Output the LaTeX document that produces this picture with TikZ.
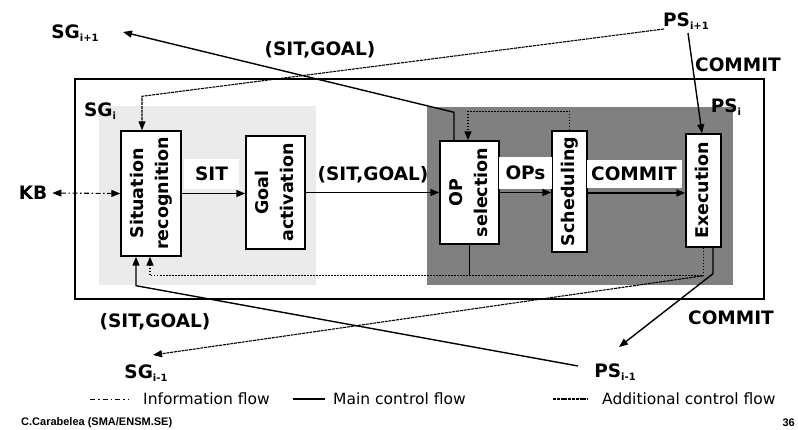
\documentclass[tikz,border=0pt]{standalone}
\usepackage{fontspec}
\setmainfont{DejaVu Sans}
\newfontfamily\creditfont{Liberation Sans}
\usetikzlibrary{arrows.meta,calc}

% vertical (rotated) text inside a block
\newcommand\vtext[1]{\rotatebox{90}{\begin{tabular}{@{}c@{}}#1\end{tabular}}}
% layer name with a small index
\newcommand\lay[2]{#1\raisebox{-3pt}{\fontsize{10}{10}\selectfont #2}}

\begin{document}
\begin{tikzpicture}[x=1pt,y=-1pt,
  >={Triangle[length=9pt,width=7pt]},
  main/.style={line width=1.4pt},
  infoflow/.style={line width=1.1pt, dash pattern=on 5pt off 2.5pt on 1.5pt off 2.5pt},
  extra/.style={line width=1.5pt, dash pattern=on 1.5pt off 1.5pt},
  fine/.style={line width=1.1pt, dash pattern=on 3pt off 0.8pt},
  block/.style={draw, fill=white, line width=1.4pt, inner sep=0pt,
    font=\fontsize{17.5}{25}\selectfont\bfseries},
  lbl/.style={font=\fontsize{18.5}{20}\selectfont\bfseries, inner sep=1pt},
  legend/.style={font=\fontsize{15.5}{17}\selectfont, anchor=west, inner sep=0pt}
]
\useasboundingbox (0,0) rectangle (798,430);

% agent frame and the two layers
\draw[line width=1.4pt] (75,79) rectangle (764,299);
\fill[gray!16] (99,106) rectangle (316,285);
\fill[black!50] (427,107) rectangle (733,285);

% processing blocks
\node[block, minimum width=60pt, minimum height=125pt] (SR) at (151,193.5) {\vtext{Situation\\recognition}};
\node[block, minimum width=59pt, minimum height=113pt] (GA) at (275.5,192.5) {\vtext{Goal\\activation}};
\node[block, minimum width=59pt, minimum height=103pt] (OP) at (469.5,192.5) {\vtext{OP\\selection}};
\node[block, minimum width=35pt, minimum height=121pt] (SC) at (569.5,191.5) {\vtext{Scheduling}};
\node[block, minimum width=35pt, minimum height=113pt] (EX) at (703.5,190.5) {\vtext{Execution}};

% flow labels inside the frame
\node[lbl, fill=white, minimum width=55pt, minimum height=30pt] (sit) at (211.5,174) {SIT};
\node[lbl] (sg) at (373,175) {(SIT,GOAL)};
\node[lbl, fill=white, minimum width=53pt, minimum height=32pt] (ops) at (525.5,173) {OPs};
\node[lbl, fill=white, minimum width=95pt, minimum height=28pt] (cm) at (634,174) {COMMIT};

% layer labels
\node[lbl] (SGi) at (100,111) {\lay{SG}{i}};
\node[lbl] (PSi) at (726,107) {\lay{PS}{i}};

% neighbouring layers
\node[lbl] (sgip) at (75,33) {\lay{SG}{i+1}};
\node[lbl] (psip) at (686,21) {\lay{PS}{i+1}};
\node[lbl] (sgim) at (146,373) {\lay{SG}{i-1}};
\node[lbl] (psim) at (615,372) {\lay{PS}{i-1}};
\node[lbl] (kb) at (33,193) {KB};

% outer flow labels
\node[lbl] (sgtop) at (320,50) {(SIT,GOAL)};
\node[lbl] (cmtop) at (738,65) {COMMIT};
\node[lbl] (sgbot) at (155,322) {(SIT,GOAL)};
\node[lbl] (cmbot) at (731,318) {COMMIT};

% main chain
\draw[main,->] (SR.east) -- (SR.east -| GA.west);
\draw[main,->] (GA.east) -- (GA.east -| OP.west);
\draw[main,->] (OP.east) -- (OP.east -| SC.west);
\coordinate (scout) at ($(SC.east)+(0,1.5)$);
\draw[main,->] (scout) -- (scout -| EX.west);

% knowledge base
\draw[infoflow,<->] ($(kb.east)+(4,0)$) -- (SR.west);

% links to the upper layer
\draw[main,->] ($(OP.north)+(-15.5,0)$) -- ++(0,-28) -- ($(sgip)+(48,-1)$);
\draw[fine,->] ($(psip.west)+(2,8)$) -- ($(SR.north)+(-9,-34)$) -- ($(SR.north)+(-9,0)$);
\draw[main,->] ($(psip)+(2,12)$) -- ($(EX.north)+(-1.5,0)$);

% scheduling feedback
\draw[extra,->] (SC.north) -- ++(0,-19) -| ($(OP.north)+(-1.5,0)$);

% links to the lower layer
\draw[main] (OP.south) -- ++(0,30);
\coordinate (exfb) at ($(EX.south)+(0,28)$);
\draw[extra,->] (EX.south) -- (exfb) -| ($(SR.south)+(-1,0)$);
\draw[fine,->] (exfb) -- ($(sgim)+(7,-18)$);
\draw[main,->] ($(EX.south)+(9.5,0)$) -- ++(0,26) -- ($(psim)+(4,-25)$);
\draw[main,->] ($(psim)+(-37,-6)$) -- ($(SR.south)+(-15,29)$) -- ($(SR.south)+(-15,0)$);

% legend
\coordinate (l1a) at (90,399);
\coordinate (l1b) at (128,399);
\draw[line width=1pt, dash pattern=on 5pt off 3pt on 1.5pt off 3pt] (l1a) -- (l1b);
\node[legend] (t1) at (143,399) {Information flow};
\coordinate (l2a) at (293,399);
\coordinate (l2b) at (325,399);
\draw[line width=1.2pt] (l2a) -- (l2b);
\node[legend] (t2) at (333,399) {Main control flow};
\coordinate (l3a) at (553,399);
\coordinate (l3b) at (588,399);
\draw[fine] (l3a) -- (l3b);
\node[legend] (t3) at (602,399) {Additional control flow};

% footer
\node[anchor=west, inner sep=0pt, font=\creditfont\fontsize{11}{13}\selectfont\bfseries] (credit) at (21,423) {C.Carabelea (SMA/ENSM.SE)};
\node[anchor=east, inner sep=0pt, font=\creditfont\fontsize{11}{13}\selectfont\bfseries] (page) at (795,423) {36};
\end{tikzpicture}
\end{document}
